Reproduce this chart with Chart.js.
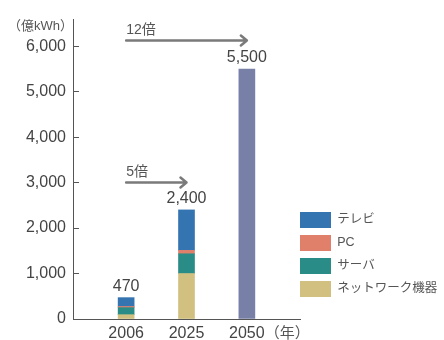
<!DOCTYPE html>
<html>
<head>
<meta charset="utf-8">
<script src="https://cdn.jsdelivr.net/npm/chart.js@4"></script>
<style>
  html, body { margin: 0; padding: 0; background: #fff; }
  #wrap { width: 444px; height: 340px; position: relative; }
</style>
</head>
<body>
<div id="wrap"><canvas id="myChart"></canvas></div>
<script>
const years = ['2006', '2025', '2050'];
const network = [95, 1000];
const server = [155, 435];
const pc = [25, 75];
const tv = [195, 890];
const total2050 = [5500];
const yTicks = [0, 1000, 2000, 3000, 4000, 5000, 6000];
const ratioLabels = ['5倍', '12倍'];
const ratioTargets = ['2025', '2050'];
const ratioLevels = [3020, 6140];
const unitLabel = '（億kWh）';
const yearUnit = '（年）';

const JP = "'Liberation Sans', 'Noto Sans CJK JP', sans-serif";
Chart.defaults.font.family = JP;
Chart.defaults.color = '#444';

const xOf = (i) => i + 1;
const totals = years.map((y, i) => i < network.length
  ? network[i] + server[i] + pc[i] + tv[i]
  : total2050[i - network.length]);

const toPoints = (arr, start) => arr.map((v, i) => ({ x: xOf(start + i), y: v }));

const extras = {
  id: 'extras',
  afterLayout(chart) {
    // move the legend so its boxes line up with the end of the x axis
    const lg = chart.legend;
    const pad = chart.options.plugins.legend.labels.padding;
    lg.left = chart.chartArea.right - pad;
    lg.right = lg.left + 151;
    lg.top = 205;
    lg.bottom = 330;
  },
  afterDraw(chart) {
    const { ctx, chartArea } = chart;
    const xs = chart.scales.x, ys = chart.scales.y;
    ctx.save();

    // totals above the bars
    ctx.fillStyle = '#444';
    ctx.font = '16px ' + JP;
    ctx.textAlign = 'center';
    ctx.textBaseline = 'alphabetic';
    totals.forEach((t, i) => {
      ctx.fillText(t.toLocaleString('en-US'), xs.getPixelForValue(xOf(i)), ys.getPixelForValue(t) - 7);
    });

    // growth arrows
    ratioLabels.forEach((lab, k) => {
      const x1 = xs.getPixelForValue(xOf(0));
      const x2 = xs.getPixelForValue(xOf(years.indexOf(ratioTargets[k])));
      const y = Math.round(ys.getPixelForValue(ratioLevels[k])) + 0.5;
      ctx.strokeStyle = '#7a7a7a';
      ctx.lineWidth = 2.5;
      ctx.lineCap = 'round';
      ctx.lineJoin = 'round';
      ctx.beginPath();
      ctx.moveTo(x1, y);
      ctx.lineTo(x2, y);
      ctx.moveTo(x2 - 6, y - 5);
      ctx.lineTo(x2, y);
      ctx.lineTo(x2 - 6, y + 5);
      ctx.stroke();
      ctx.fillStyle = '#555';
      ctx.font = '14px ' + JP;
      ctx.textAlign = 'left';
      ctx.textBaseline = 'alphabetic';
      ctx.fillText(lab, x1, y - 7);
    });

    // unit label for the y axis
    ctx.fillStyle = '#555';
    ctx.font = '13px ' + JP;
    ctx.textAlign = 'right';
    ctx.textBaseline = 'alphabetic';
    ctx.fillText(unitLabel, chartArea.left, 30);

    // year unit after the last tick label
    ctx.font = '16px ' + JP;
    const lastW = ctx.measureText(years[years.length - 1]).width;
    ctx.font = '15px ' + JP;
    ctx.textAlign = 'left';
    ctx.textBaseline = 'middle';
    ctx.fillText(yearUnit, xs.getPixelForValue(xOf(years.length - 1)) + lastW / 2, xs.top + 15);
    ctx.restore();
  }
};

new Chart(document.getElementById('myChart'), {
  type: 'bar',
  data: {
    datasets: [
      { label: 'ネットワーク機器', data: toPoints(network, 0), backgroundColor: '#d1c080' },
      { label: 'サーバ', data: toPoints(server, 0), backgroundColor: '#2a8c86' },
      { label: 'PC', data: toPoints(pc, 0), backgroundColor: '#e0806a' },
      { label: 'テレビ', data: toPoints(tv, 0), backgroundColor: '#3474b0' },
      { label: '2050', data: toPoints(total2050, network.length), backgroundColor: '#7880a8' }
    ]
  },
  options: {
    responsive: true,
    maintainAspectRatio: false,
    animation: false,
    barThickness: 16,
    borderWidth: 0,
    layout: { padding: { top: 19, right: 0, bottom: 0, left: 0 } },
    plugins: {
      tooltip: { enabled: false },
      legend: {
        position: 'right',
        align: 'start',
        maxWidth: 144,
        reverse: true,
        labels: {
          boxWidth: 31,
          boxHeight: 16,
          padding: 7,
          color: '#555',
          font: { size: 12.5 },
          filter: (item) => item.datasetIndex < 4
        }
      }
    },
    scales: {
      x: {
        type: 'linear',
        stacked: true,
        offset: false,
        min: 0.12,
        max: 3.88,
        afterFit: (s) => { s.height = 21; s.paddingLeft = 0; s.paddingRight = 0; },
        afterBuildTicks: (s) => { s.ticks = years.map((y, i) => ({ value: xOf(i) })); },
        grid: { display: false, drawTicks: false, offset: false },
        border: { display: true, color: '#555', width: 1 },
        ticks: {
          padding: 5,
          color: '#444',
          font: { size: 16 },
          callback: (v) => years[v - 1]
        }
      },
      y: {
        stacked: true,
        min: 0,
        max: 6600,
        afterFit: (s) => { s.width = 73; s.paddingTop = 0; s.paddingBottom = 0; },
        afterBuildTicks: (s) => { s.ticks = yTicks.map((v) => ({ value: v })); },
        grid: { drawOnChartArea: false, drawTicks: true, tickLength: -6, color: '#555' },
        border: { display: true, color: '#555', width: 1 },
        ticks: {
          padding: 13,
          color: '#444',
          font: { size: 16 },
          callback: (v) => v.toLocaleString('en-US')
        }
      }
    }
  },
  plugins: [extras]
});
</script>
</body>
</html>
